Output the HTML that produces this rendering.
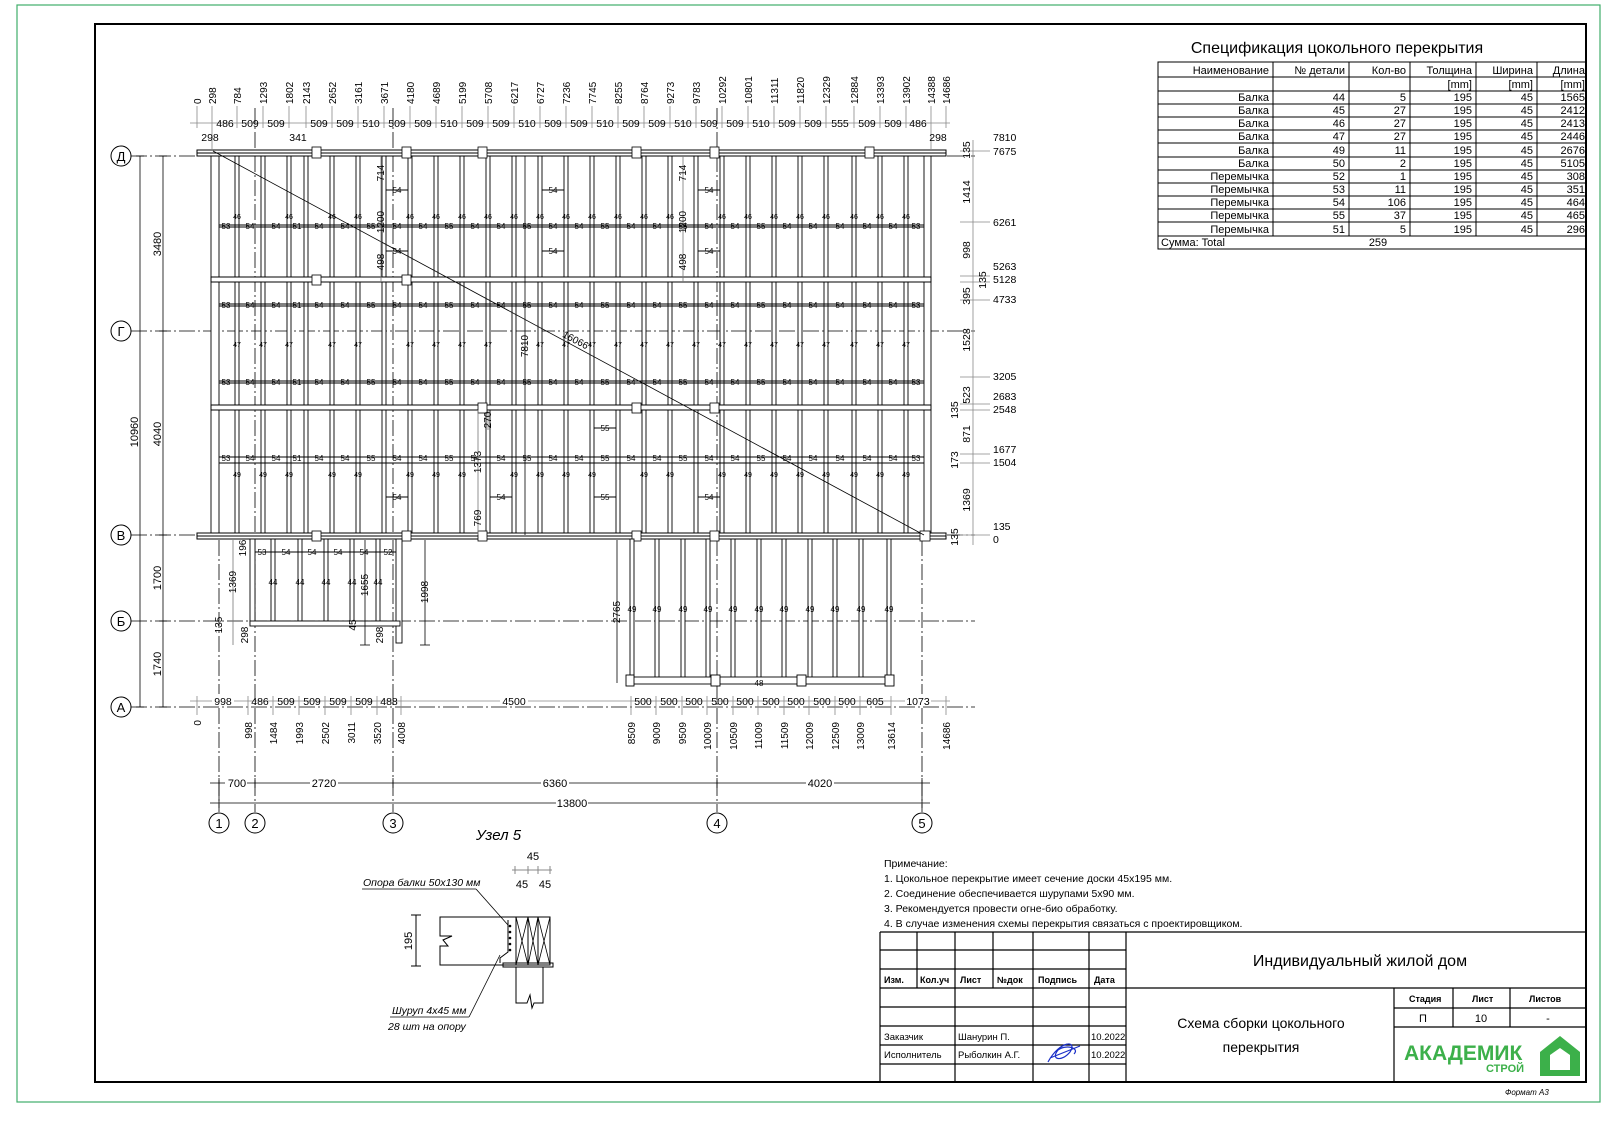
<!DOCTYPE html>
<html><head><meta charset="utf-8"><style>
html,body{margin:0;padding:0;background:#fff}
svg{display:block}
text{font-family:"Liberation Sans","DejaVu Sans",sans-serif;fill:#000}
.m{font-family:"Liberation Mono","DejaVu Sans Mono",monospace}
</style></head><body>
<svg width="1605" height="1123" viewBox="0 0 1605 1123" xmlns="http://www.w3.org/2000/svg">
<rect x="17" y="5" width="1583" height="1097" fill="none" stroke="#3fae6a" stroke-width="1.2"/>
<rect x="95" y="24" width="1491" height="1058" fill="none" stroke="#000" stroke-width="2"/>

<!-- grid lines -->
<g stroke="#000" stroke-width="0.8" stroke-dasharray="16 3 2 3" fill="none">
<line x1="131" y1="156" x2="975" y2="156"/><line x1="131" y1="331" x2="975" y2="331"/>
<line x1="131" y1="535" x2="975" y2="535"/><line x1="131" y1="621" x2="975" y2="621"/>
<line x1="131" y1="707" x2="975" y2="707"/>
<line x1="219" y1="540" x2="219" y2="812"/><line x1="255" y1="108" x2="255" y2="812"/>
<line x1="393" y1="108" x2="393" y2="812"/><line x1="717" y1="108" x2="717" y2="812"/>
<line x1="922" y1="540" x2="922" y2="812"/>
</g>
<g fill="#fff" stroke="#000" stroke-width="1">
<circle cx="121" cy="156" r="10"/><circle cx="121" cy="331" r="10"/><circle cx="121" cy="535" r="10"/><circle cx="121" cy="621" r="10"/><circle cx="121" cy="707" r="10"/>
<circle cx="219" cy="823" r="10"/><circle cx="255" cy="823" r="10"/><circle cx="393" cy="823" r="10"/><circle cx="717" cy="823" r="10"/><circle cx="922" cy="823" r="10"/>
</g>
<g font-size="13" text-anchor="middle">
<text x="121" y="161">Д</text><text x="121" y="336">Г</text><text x="121" y="540">В</text><text x="121" y="626">Б</text><text x="121" y="712">А</text>
<text x="219" y="828">1</text><text x="255" y="828">2</text><text x="393" y="828">3</text><text x="717" y="828">4</text><text x="922" y="828">5</text>
</g>

<!-- left dims -->
<g stroke="#000" stroke-width="0.8">
<line x1="140" y1="156" x2="140" y2="707"/><line x1="163" y1="156" x2="163" y2="707"/>
<line x1="136" y1="156" x2="144" y2="156"/><line x1="136" y1="707" x2="144" y2="707"/>
<line x1="159" y1="156" x2="167" y2="156"/><line x1="159" y1="331" x2="167" y2="331"/><line x1="159" y1="535" x2="167" y2="535"/><line x1="159" y1="621" x2="167" y2="621"/><line x1="159" y1="707" x2="167" y2="707"/>
</g>
<g font-size="11" text-anchor="middle">
<text transform="translate(138,432) rotate(-90)">10960</text>
<text transform="translate(161,244) rotate(-90)">3480</text>
<text transform="translate(161,434) rotate(-90)">4040</text>
<text transform="translate(161,578) rotate(-90)">1700</text>
<text transform="translate(161,664) rotate(-90)">1740</text>
</g>

<!-- joists main -->
<g fill="#fff" stroke="#000" stroke-width="0.9">
<rect x="211" y="152" width="8" height="384"/>
<rect x="235" y="156" width="4" height="378"/><rect x="261" y="156" width="4" height="378"/><rect x="287" y="156" width="4" height="378"/><rect x="304" y="156" width="4" height="378"/><rect x="330" y="156" width="4" height="378"/><rect x="356" y="156" width="4" height="378"/><rect x="382" y="156" width="4" height="378"/><rect x="408" y="156" width="4" height="378"/><rect x="434" y="156" width="4" height="378"/><rect x="460" y="156" width="4" height="378"/><rect x="486" y="156" width="4" height="378"/><rect x="512" y="156" width="4" height="378"/><rect x="538" y="156" width="4" height="378"/><rect x="564" y="156" width="4" height="378"/><rect x="590" y="156" width="4" height="378"/><rect x="616" y="156" width="4" height="378"/><rect x="642" y="156" width="4" height="378"/><rect x="668" y="156" width="4" height="378"/><rect x="694" y="156" width="4" height="378"/><rect x="720" y="156" width="4" height="378"/><rect x="746" y="156" width="4" height="378"/><rect x="772" y="156" width="4" height="378"/><rect x="798" y="156" width="4" height="378"/><rect x="824" y="156" width="4" height="378"/><rect x="852" y="156" width="4" height="378"/><rect x="878" y="156" width="4" height="378"/><rect x="904" y="156" width="4" height="378"/>
<rect x="924" y="152" width="7" height="384"/>
</g>
<!-- blocking rows -->
<g stroke="#000" stroke-width="0.9">
<line x1="219" y1="225" x2="924" y2="225"/><line x1="219" y1="227" x2="924" y2="227"/>
<line x1="219" y1="304" x2="924" y2="304"/><line x1="219" y1="306" x2="924" y2="306"/>
<line x1="219" y1="381" x2="924" y2="381"/><line x1="219" y1="383" x2="924" y2="383"/>
<line x1="219" y1="457" x2="924" y2="457"/><line x1="219" y1="463" x2="924" y2="463"/>
<line x1="386" y1="190" x2="408" y2="190"/><line x1="386" y1="251" x2="408" y2="251"/><line x1="386" y1="497" x2="408" y2="497"/>
<line x1="542" y1="190" x2="564" y2="190"/><line x1="542" y1="251" x2="564" y2="251"/>
<line x1="698" y1="190" x2="720" y2="190"/><line x1="698" y1="251" x2="720" y2="251"/><line x1="698" y1="497" x2="720" y2="497"/>
<line x1="594" y1="428" x2="616" y2="428"/><line x1="594" y1="497" x2="616" y2="497"/><line x1="490" y1="497" x2="512" y2="497"/>
</g>
<g font-size="8" text-anchor="middle">
<text x="226" y="229">53</text><text x="250" y="229">54</text><text x="276" y="229">54</text><text x="297" y="229">51</text><text x="319" y="229">54</text><text x="345" y="229">54</text><text x="371" y="229">55</text><text x="397" y="229">54</text><text x="423" y="229">54</text><text x="449" y="229">55</text><text x="475" y="229">54</text><text x="501" y="229">54</text><text x="527" y="229">55</text><text x="553" y="229">54</text><text x="579" y="229">54</text><text x="605" y="229">55</text><text x="631" y="229">54</text><text x="657" y="229">54</text><text x="683" y="229">55</text><text x="709" y="229">54</text><text x="735" y="229">54</text><text x="761" y="229">55</text><text x="787" y="229">54</text><text x="813" y="229">54</text><text x="840" y="229">54</text><text x="867" y="229">54</text><text x="893" y="229">54</text><text x="916" y="229">53</text>
<text x="226" y="308">53</text><text x="250" y="308">54</text><text x="276" y="308">54</text><text x="297" y="308">51</text><text x="319" y="308">54</text><text x="345" y="308">54</text><text x="371" y="308">55</text><text x="397" y="308">54</text><text x="423" y="308">54</text><text x="449" y="308">55</text><text x="475" y="308">54</text><text x="501" y="308">54</text><text x="527" y="308">55</text><text x="553" y="308">54</text><text x="579" y="308">54</text><text x="605" y="308">55</text><text x="631" y="308">54</text><text x="657" y="308">54</text><text x="683" y="308">55</text><text x="709" y="308">54</text><text x="735" y="308">54</text><text x="761" y="308">55</text><text x="787" y="308">54</text><text x="813" y="308">54</text><text x="840" y="308">54</text><text x="867" y="308">54</text><text x="893" y="308">54</text><text x="916" y="308">53</text>
<text x="226" y="385">53</text><text x="250" y="385">54</text><text x="276" y="385">54</text><text x="297" y="385">51</text><text x="319" y="385">54</text><text x="345" y="385">54</text><text x="371" y="385">55</text><text x="397" y="385">54</text><text x="423" y="385">54</text><text x="449" y="385">55</text><text x="475" y="385">54</text><text x="501" y="385">54</text><text x="527" y="385">55</text><text x="553" y="385">54</text><text x="579" y="385">54</text><text x="605" y="385">55</text><text x="631" y="385">54</text><text x="657" y="385">54</text><text x="683" y="385">55</text><text x="709" y="385">54</text><text x="735" y="385">54</text><text x="761" y="385">55</text><text x="787" y="385">54</text><text x="813" y="385">54</text><text x="840" y="385">54</text><text x="867" y="385">54</text><text x="893" y="385">54</text><text x="916" y="385">53</text>
<text x="226" y="461">53</text><text x="250" y="461">54</text><text x="276" y="461">54</text><text x="297" y="461">51</text><text x="319" y="461">54</text><text x="345" y="461">54</text><text x="371" y="461">55</text><text x="397" y="461">54</text><text x="423" y="461">54</text><text x="449" y="461">55</text><text x="475" y="461">54</text><text x="501" y="461">54</text><text x="527" y="461">55</text><text x="553" y="461">54</text><text x="579" y="461">54</text><text x="605" y="461">55</text><text x="631" y="461">54</text><text x="657" y="461">54</text><text x="683" y="461">55</text><text x="709" y="461">54</text><text x="735" y="461">54</text><text x="761" y="461">55</text><text x="787" y="461">54</text><text x="813" y="461">54</text><text x="840" y="461">54</text><text x="867" y="461">54</text><text x="893" y="461">54</text><text x="916" y="461">53</text>
<text x="397" y="193">54</text><text x="397" y="254">54</text><text x="397" y="500">54</text><text x="553" y="193">54</text><text x="553" y="254">54</text><text x="709" y="193">54</text><text x="709" y="254">54</text><text x="709" y="500">54</text><text x="605" y="431">55</text><text x="605" y="500">55</text><text x="501" y="500">54</text>
</g>
<g font-size="7" text-anchor="middle">
<text x="237" y="219">46</text><text x="289" y="219">46</text><text x="332" y="219">46</text><text x="358" y="219">46</text><text x="410" y="219">46</text><text x="436" y="219">46</text><text x="462" y="219">46</text><text x="488" y="219">46</text><text x="514" y="219">46</text><text x="540" y="219">46</text><text x="566" y="219">46</text><text x="592" y="219">46</text><text x="618" y="219">46</text><text x="644" y="219">46</text><text x="670" y="219">46</text><text x="722" y="219">46</text><text x="748" y="219">46</text><text x="774" y="219">46</text><text x="800" y="219">46</text><text x="826" y="219">46</text><text x="854" y="219">46</text><text x="880" y="219">46</text><text x="906" y="219">46</text>
<text x="237" y="347">47</text><text x="263" y="347">47</text><text x="289" y="347">47</text><text x="332" y="347">47</text><text x="358" y="347">47</text><text x="410" y="347">47</text><text x="436" y="347">47</text><text x="462" y="347">47</text><text x="488" y="347">47</text><text x="540" y="347">47</text><text x="566" y="347">47</text><text x="592" y="347">47</text><text x="618" y="347">47</text><text x="644" y="347">47</text><text x="670" y="347">47</text><text x="696" y="347">47</text><text x="722" y="347">47</text><text x="748" y="347">47</text><text x="774" y="347">47</text><text x="800" y="347">47</text><text x="826" y="347">47</text><text x="854" y="347">47</text><text x="880" y="347">47</text><text x="906" y="347">47</text>
<text x="237" y="477">49</text><text x="263" y="477">49</text><text x="289" y="477">49</text><text x="332" y="477">49</text><text x="358" y="477">49</text><text x="410" y="477">49</text><text x="436" y="477">49</text><text x="462" y="477">49</text><text x="514" y="477">49</text><text x="540" y="477">49</text><text x="566" y="477">49</text><text x="592" y="477">49</text><text x="644" y="477">49</text><text x="670" y="477">49</text><text x="722" y="477">49</text><text x="748" y="477">49</text><text x="774" y="477">49</text><text x="800" y="477">49</text><text x="826" y="477">49</text><text x="854" y="477">49</text><text x="880" y="477">49</text><text x="906" y="477">49</text>
</g>
<!-- beams -->
<g fill="#fff" stroke="#000" stroke-width="1">
<rect x="197" y="150" width="749" height="6"/><line x1="197" y1="153" x2="946" y2="153"/>
<rect x="211" y="277" width="720" height="5"/>
<rect x="211" y="405" width="720" height="5"/>
<rect x="197" y="533" width="749" height="6"/><line x1="197" y1="536" x2="946" y2="536"/>
</g>
<g fill="#fff" stroke="#000" stroke-width="0.8">
<rect x="312" y="147" width="9" height="11"/><rect x="402" y="147" width="9" height="11"/><rect x="478" y="147" width="9" height="11"/><rect x="632" y="147" width="9" height="11"/><rect x="710" y="147" width="9" height="11"/><rect x="865" y="147" width="9" height="11"/>
<rect x="312" y="275" width="9" height="10"/><rect x="402" y="275" width="9" height="10"/><rect x="478" y="403" width="9" height="10"/><rect x="632" y="403" width="9" height="10"/><rect x="710" y="403" width="9" height="10"/>
<rect x="312" y="531" width="9" height="10"/><rect x="402" y="531" width="9" height="10"/><rect x="478" y="531" width="9" height="10"/><rect x="632" y="531" width="9" height="10"/><rect x="710" y="531" width="9" height="10"/><rect x="920" y="531" width="10" height="10"/>
</g>
<line x1="213" y1="151" x2="924" y2="535" stroke="#000" stroke-width="0.8"/>
<text transform="translate(574,343) rotate(28)" font-size="10" text-anchor="middle">16066</text>

<!-- internal dims -->
<g stroke="#777" stroke-width="0.8">
<line x1="381" y1="156" x2="381" y2="282"/><line x1="683" y1="156" x2="683" y2="282"/>
<line x1="478" y1="410" x2="478" y2="535"/><line x1="488" y1="410" x2="488" y2="430"/>
<line x1="525" y1="156" x2="525" y2="535" stroke="#000"/>
</g>
<g font-size="10" text-anchor="middle">
<text transform="translate(384,173) rotate(-90)">714</text><text transform="translate(384,222) rotate(-90)">1200</text><text transform="translate(384,262) rotate(-90)">498</text>
<text transform="translate(686,173) rotate(-90)">714</text><text transform="translate(686,222) rotate(-90)">1200</text><text transform="translate(686,262) rotate(-90)">498</text>
<text transform="translate(528,346) rotate(-90)">7810</text>
<text transform="translate(481,462) rotate(-90)">1373</text><text transform="translate(491,420) rotate(-90)">270</text><text transform="translate(481,518) rotate(-90)">769</text>
</g>

<!-- left annex -->
<g fill="#fff" stroke="#000" stroke-width="0.9">
<rect x="250" y="539" width="5" height="86"/>
<rect x="271" y="539" width="4" height="82"/><rect x="298" y="539" width="4" height="82"/><rect x="324" y="539" width="4" height="82"/><rect x="350" y="539" width="4" height="82"/><rect x="376" y="539" width="4" height="82"/>
<rect x="396" y="539" width="6" height="104"/>
<rect x="250" y="621" width="150" height="5"/>
</g>
<line x1="255" y1="552" x2="396" y2="552" stroke="#000"/>
<g font-size="8" text-anchor="middle">
<text x="262" y="555">53</text><text x="286" y="555">54</text><text x="312" y="555">54</text><text x="338" y="555">54</text><text x="364" y="555">54</text><text x="388" y="555">52</text>
<text x="273" y="585">44</text><text x="300" y="585">44</text><text x="326" y="585">44</text><text x="352" y="585">44</text><text x="378" y="585">44</text>
</g>
<g stroke="#000" stroke-width="0.8">
<line x1="233" y1="540" x2="233" y2="645" stroke="#777"/><line x1="365" y1="540" x2="365" y2="645"/><line x1="425" y1="540" x2="425" y2="645"/>
<line x1="420" y1="645" x2="430" y2="645"/><line x1="360" y1="645" x2="370" y2="645"/>
</g>
<g font-size="10" text-anchor="middle">
<text transform="translate(246,548) rotate(-90)">196</text><text transform="translate(236,582) rotate(-90)">1369</text>
<text transform="translate(222,625) rotate(-90)">135</text><text transform="translate(248,635) rotate(-90)">298</text>
<text transform="translate(368,585) rotate(-90)">1655</text><text transform="translate(356,625) rotate(-90)">45</text>
<text transform="translate(383,635) rotate(-90)">298</text><text transform="translate(428,592) rotate(-90)">1998</text>
</g>

<!-- right annex -->
<g fill="#fff" stroke="#000" stroke-width="0.9">
<rect x="630" y="539" width="4" height="140"/><rect x="655" y="539" width="4" height="140"/><rect x="681" y="539" width="4" height="140"/><rect x="706" y="539" width="4" height="140"/><rect x="731" y="539" width="4" height="140"/><rect x="757" y="539" width="4" height="140"/><rect x="782" y="539" width="4" height="140"/><rect x="808" y="539" width="4" height="140"/><rect x="833" y="539" width="4" height="140"/><rect x="859" y="539" width="4" height="140"/><rect x="887" y="539" width="4" height="140"/>
<rect x="628" y="677" width="265" height="7"/>
<rect x="626" y="675" width="8" height="11"/><rect x="711" y="675" width="9" height="11"/><rect x="797" y="675" width="9" height="11"/><rect x="885" y="675" width="9" height="11"/>
</g>
<g font-size="8" text-anchor="middle">
<text x="632" y="612">49</text><text x="657" y="612">49</text><text x="683" y="612">49</text><text x="708" y="612">49</text><text x="733" y="612">49</text><text x="759" y="612">49</text><text x="784" y="612">49</text><text x="810" y="612">49</text><text x="835" y="612">49</text><text x="861" y="612">49</text><text x="889" y="612">49</text><text x="759" y="686">48</text>
</g>
<line x1="617" y1="540" x2="617" y2="683" stroke="#000" stroke-width="0.8"/>
<text transform="translate(620,612) rotate(-90)" font-size="10" text-anchor="middle">2765</text>

<!-- top dim chain -->
<line x1="190" y1="123" x2="950" y2="123" stroke="#888" stroke-width="0.8"/>
<g stroke="#888" stroke-width="0.8">
<line x1="197" y1="106" x2="197" y2="128"/><line x1="212" y1="106" x2="212" y2="150"/><line x1="237" y1="106" x2="237" y2="128"/><line x1="263" y1="106" x2="263" y2="128"/><line x1="289" y1="106" x2="289" y2="128"/><line x1="306" y1="106" x2="306" y2="128"/><line x1="332" y1="106" x2="332" y2="128"/><line x1="358" y1="106" x2="358" y2="128"/><line x1="384" y1="106" x2="384" y2="128"/><line x1="410" y1="106" x2="410" y2="128"/><line x1="436" y1="106" x2="436" y2="128"/><line x1="462" y1="106" x2="462" y2="128"/><line x1="488" y1="106" x2="488" y2="128"/><line x1="514" y1="106" x2="514" y2="128"/><line x1="540" y1="106" x2="540" y2="128"/><line x1="566" y1="106" x2="566" y2="128"/><line x1="592" y1="106" x2="592" y2="128"/><line x1="618" y1="106" x2="618" y2="128"/><line x1="644" y1="106" x2="644" y2="128"/><line x1="670" y1="106" x2="670" y2="128"/><line x1="696" y1="106" x2="696" y2="128"/><line x1="722" y1="106" x2="722" y2="128"/><line x1="748" y1="106" x2="748" y2="128"/><line x1="774" y1="106" x2="774" y2="128"/><line x1="800" y1="106" x2="800" y2="128"/><line x1="826" y1="106" x2="826" y2="128"/><line x1="854" y1="106" x2="854" y2="128"/><line x1="880" y1="106" x2="880" y2="128"/><line x1="906" y1="106" x2="906" y2="128"/><line x1="931" y1="106" x2="931" y2="150"/><line x1="946" y1="106" x2="946" y2="128"/>
</g>
<g font-size="10" text-anchor="start">
<text transform="translate(201,104) rotate(-90)">0</text><text transform="translate(216,104) rotate(-90)">298</text><text transform="translate(241,104) rotate(-90)">784</text><text transform="translate(267,104) rotate(-90)">1293</text><text transform="translate(293,104) rotate(-90)">1802</text><text transform="translate(310,104) rotate(-90)">2143</text><text transform="translate(336,104) rotate(-90)">2652</text><text transform="translate(362,104) rotate(-90)">3161</text><text transform="translate(388,104) rotate(-90)">3671</text><text transform="translate(414,104) rotate(-90)">4180</text><text transform="translate(440,104) rotate(-90)">4689</text><text transform="translate(466,104) rotate(-90)">5199</text><text transform="translate(492,104) rotate(-90)">5708</text><text transform="translate(518,104) rotate(-90)">6217</text><text transform="translate(544,104) rotate(-90)">6727</text><text transform="translate(570,104) rotate(-90)">7236</text><text transform="translate(596,104) rotate(-90)">7745</text><text transform="translate(622,104) rotate(-90)">8255</text><text transform="translate(648,104) rotate(-90)">8764</text><text transform="translate(674,104) rotate(-90)">9273</text><text transform="translate(700,104) rotate(-90)">9783</text><text transform="translate(726,104) rotate(-90)">10292</text><text transform="translate(752,104) rotate(-90)">10801</text><text transform="translate(778,104) rotate(-90)">11311</text><text transform="translate(804,104) rotate(-90)">11820</text><text transform="translate(830,104) rotate(-90)">12329</text><text transform="translate(858,104) rotate(-90)">12884</text><text transform="translate(884,104) rotate(-90)">13393</text><text transform="translate(910,104) rotate(-90)">13902</text><text transform="translate(935,104) rotate(-90)">14388</text><text transform="translate(950,104) rotate(-90)">14686</text>
</g>
<g font-size="10.5" text-anchor="middle">
<text x="225" y="127">486</text><text x="250" y="127">509</text><text x="276" y="127">509</text><text x="319" y="127">509</text><text x="345" y="127">509</text><text x="371" y="127">510</text><text x="397" y="127">509</text><text x="423" y="127">509</text><text x="449" y="127">510</text><text x="475" y="127">509</text><text x="501" y="127">509</text><text x="527" y="127">510</text><text x="553" y="127">509</text><text x="579" y="127">509</text><text x="605" y="127">510</text><text x="631" y="127">509</text><text x="657" y="127">509</text><text x="683" y="127">510</text><text x="709" y="127">509</text><text x="735" y="127">509</text><text x="761" y="127">510</text><text x="787" y="127">509</text><text x="813" y="127">509</text><text x="840" y="127">555</text><text x="867" y="127">509</text><text x="893" y="127">509</text><text x="918" y="127">486</text>
<text x="210" y="141">298</text><text x="298" y="141">341</text><text x="938" y="141">298</text>
</g>

<!-- right dim chain -->
<line x1="973" y1="140" x2="973" y2="545" stroke="#888" stroke-width="0.8"/>
<g stroke="#888" stroke-width="0.8">
<line x1="960" y1="151" x2="990" y2="151"/><line x1="960" y1="222" x2="990" y2="222"/><line x1="960" y1="276" x2="990" y2="276"/><line x1="960" y1="282" x2="990" y2="282"/><line x1="960" y1="300" x2="990" y2="300"/><line x1="960" y1="377" x2="990" y2="377"/><line x1="960" y1="404" x2="990" y2="404"/><line x1="960" y1="410" x2="990" y2="410"/><line x1="960" y1="454" x2="990" y2="454"/><line x1="960" y1="463" x2="990" y2="463"/><line x1="960" y1="535" x2="990" y2="535"/>
</g>
<g font-size="10.5">
<text x="993" y="141">7810</text><text x="993" y="155">7675</text><text x="993" y="226">6261</text><text x="993" y="270">5263</text><text x="993" y="283">5128</text><text x="993" y="303">4733</text><text x="993" y="380">3205</text><text x="993" y="400">2683</text><text x="993" y="413">2548</text><text x="993" y="453">1677</text><text x="993" y="466">1504</text><text x="993" y="530">135</text><text x="993" y="543">0</text>
</g>
<g font-size="10.5" text-anchor="middle">
<text transform="translate(970,150) rotate(-90)">135</text><text transform="translate(970,192) rotate(-90)">1414</text><text transform="translate(970,250) rotate(-90)">998</text><text transform="translate(986,280) rotate(-90)">135</text><text transform="translate(970,296) rotate(-90)">395</text><text transform="translate(970,340) rotate(-90)">1528</text><text transform="translate(970,395) rotate(-90)">523</text><text transform="translate(958,410) rotate(-90)">135</text><text transform="translate(970,434) rotate(-90)">871</text><text transform="translate(958,460) rotate(-90)">173</text><text transform="translate(970,500) rotate(-90)">1369</text><text transform="translate(958,537) rotate(-90)">135</text>
</g>

<!-- bottom dim chain -->
<line x1="190" y1="701" x2="950" y2="701" stroke="#888" stroke-width="0.8"/>
<g stroke="#888" stroke-width="0.8">
<line x1="197" y1="696" x2="197" y2="715"/><line x1="248" y1="696" x2="248" y2="715"/><line x1="273" y1="696" x2="273" y2="715"/><line x1="299" y1="696" x2="299" y2="715"/><line x1="325" y1="696" x2="325" y2="715"/><line x1="351" y1="696" x2="351" y2="715"/><line x1="377" y1="696" x2="377" y2="715"/><line x1="401" y1="696" x2="401" y2="715"/><line x1="631" y1="696" x2="631" y2="715"/><line x1="656" y1="696" x2="656" y2="715"/><line x1="682" y1="696" x2="682" y2="715"/><line x1="707" y1="696" x2="707" y2="715"/><line x1="733" y1="696" x2="733" y2="715"/><line x1="758" y1="696" x2="758" y2="715"/><line x1="784" y1="696" x2="784" y2="715"/><line x1="809" y1="696" x2="809" y2="715"/><line x1="835" y1="696" x2="835" y2="715"/><line x1="860" y1="696" x2="860" y2="715"/><line x1="891" y1="696" x2="891" y2="715"/><line x1="946" y1="696" x2="946" y2="715"/>
</g>
<g font-size="10.5" text-anchor="middle">
<rect x="212" y="694" width="22" height="12" fill="#fff"/><text x="223" y="705">998</text><text x="260" y="705">486</text><text x="286" y="705">509</text><text x="312" y="705">509</text><text x="338" y="705">509</text><text x="364" y="705">509</text><text x="389" y="705">488</text><rect x="500" y="694" width="28" height="12" fill="#fff"/><text x="514" y="705">4500</text>
<text x="643" y="705">500</text><text x="669" y="705">500</text><text x="694" y="705">500</text><text x="720" y="705">500</text><text x="745" y="705">500</text><text x="771" y="705">500</text><text x="796" y="705">500</text><text x="822" y="705">500</text><text x="847" y="705">500</text><text x="875" y="705">605</text><rect x="905" y="694" width="26" height="12" fill="#fff"/><text x="918" y="705">1073</text>
</g>
<g font-size="10" text-anchor="end">
<text transform="translate(201,720) rotate(-90)">0</text><text transform="translate(252,722) rotate(-90)">998</text><text transform="translate(277,722) rotate(-90)">1484</text><text transform="translate(303,722) rotate(-90)">1993</text><text transform="translate(329,722) rotate(-90)">2502</text><text transform="translate(355,722) rotate(-90)">3011</text><text transform="translate(381,722) rotate(-90)">3520</text><text transform="translate(405,722) rotate(-90)">4008</text><text transform="translate(635,722) rotate(-90)">8509</text><text transform="translate(660,722) rotate(-90)">9009</text><text transform="translate(686,722) rotate(-90)">9509</text><text transform="translate(711,722) rotate(-90)">10009</text><text transform="translate(737,722) rotate(-90)">10509</text><text transform="translate(762,722) rotate(-90)">11009</text><text transform="translate(788,722) rotate(-90)">11509</text><text transform="translate(813,722) rotate(-90)">12009</text><text transform="translate(839,722) rotate(-90)">12509</text><text transform="translate(864,722) rotate(-90)">13009</text><text transform="translate(895,722) rotate(-90)">13614</text><text transform="translate(950,722) rotate(-90)">14686</text>
</g>
<g stroke="#000" stroke-width="0.8">
<line x1="210" y1="783" x2="930" y2="783"/><line x1="210" y1="803" x2="930" y2="803"/>
<line x1="219" y1="778" x2="219" y2="808"/><line x1="255" y1="778" x2="255" y2="788"/><line x1="393" y1="778" x2="393" y2="788"/><line x1="717" y1="778" x2="717" y2="788"/><line x1="922" y1="778" x2="922" y2="808"/>
</g>
<g font-size="11" text-anchor="middle">
<rect x="225" y="777" width="22" height="12" fill="#fff"/><text x="237" y="787">700</text><rect x="310" y="777" width="28" height="12" fill="#fff"/><text x="324" y="787">2720</text><rect x="541" y="777" width="28" height="12" fill="#fff"/><text x="555" y="787">6360</text><rect x="806" y="777" width="28" height="12" fill="#fff"/><text x="820" y="787">4020</text><rect x="556" y="797" width="32" height="12" fill="#fff"/><text x="572" y="807">13800</text>
</g>

<!-- spec table -->
<text x="1337" y="53" font-size="16" text-anchor="middle">Спецификация цокольного перекрытия</text>
<g stroke="#000" stroke-width="1" fill="none">
<rect x="1158" y="62" width="428" height="187"/>
<line x1="1158" y1="77" x2="1586" y2="77"/><line x1="1158" y1="91" x2="1586" y2="91"/>
<line x1="1158" y1="104" x2="1586" y2="104"/><line x1="1158" y1="117" x2="1586" y2="117"/><line x1="1158" y1="130" x2="1586" y2="130"/><line x1="1158" y1="143" x2="1586" y2="143"/><line x1="1158" y1="157" x2="1586" y2="157"/><line x1="1158" y1="170" x2="1586" y2="170"/><line x1="1158" y1="183" x2="1586" y2="183"/><line x1="1158" y1="196" x2="1586" y2="196"/><line x1="1158" y1="209" x2="1586" y2="209"/><line x1="1158" y1="222" x2="1586" y2="222"/><line x1="1158" y1="236" x2="1586" y2="236"/>
<line x1="1273" y1="62" x2="1273" y2="236"/><line x1="1349" y1="62" x2="1349" y2="236"/><line x1="1410" y1="62" x2="1410" y2="236"/><line x1="1476" y1="62" x2="1476" y2="236"/><line x1="1537" y1="62" x2="1537" y2="236"/>
</g>
<g class="m" font-size="11" text-anchor="end">
<text x="1269" y="74">Наименование</text><text x="1345" y="74">№ детали</text><text x="1406" y="74">Кол-во</text><text x="1472" y="74">Толщина</text><text x="1533" y="74">Ширина</text><text x="1585" y="74">Длина</text>
<text x="1472" y="88">[mm]</text><text x="1533" y="88">[mm]</text><text x="1585" y="88">[mm]</text>
<text x="1269" y="101">Балка</text><text x="1345" y="101">44</text><text x="1406" y="101">5</text><text x="1472" y="101">195</text><text x="1533" y="101">45</text><text x="1585" y="101">1565</text>
<text x="1269" y="114">Балка</text><text x="1345" y="114">45</text><text x="1406" y="114">27</text><text x="1472" y="114">195</text><text x="1533" y="114">45</text><text x="1585" y="114">2412</text>
<text x="1269" y="127">Балка</text><text x="1345" y="127">46</text><text x="1406" y="127">27</text><text x="1472" y="127">195</text><text x="1533" y="127">45</text><text x="1585" y="127">2413</text>
<text x="1269" y="140">Балка</text><text x="1345" y="140">47</text><text x="1406" y="140">27</text><text x="1472" y="140">195</text><text x="1533" y="140">45</text><text x="1585" y="140">2446</text>
<text x="1269" y="154">Балка</text><text x="1345" y="154">49</text><text x="1406" y="154">11</text><text x="1472" y="154">195</text><text x="1533" y="154">45</text><text x="1585" y="154">2676</text>
<text x="1269" y="167">Балка</text><text x="1345" y="167">50</text><text x="1406" y="167">2</text><text x="1472" y="167">195</text><text x="1533" y="167">45</text><text x="1585" y="167">5105</text>
<text x="1269" y="180">Перемычка</text><text x="1345" y="180">52</text><text x="1406" y="180">1</text><text x="1472" y="180">195</text><text x="1533" y="180">45</text><text x="1585" y="180">308</text>
<text x="1269" y="193">Перемычка</text><text x="1345" y="193">53</text><text x="1406" y="193">11</text><text x="1472" y="193">195</text><text x="1533" y="193">45</text><text x="1585" y="193">351</text>
<text x="1269" y="206">Перемычка</text><text x="1345" y="206">54</text><text x="1406" y="206">106</text><text x="1472" y="206">195</text><text x="1533" y="206">45</text><text x="1585" y="206">464</text>
<text x="1269" y="219">Перемычка</text><text x="1345" y="219">55</text><text x="1406" y="219">37</text><text x="1472" y="219">195</text><text x="1533" y="219">45</text><text x="1585" y="219">465</text>
<text x="1269" y="233">Перемычка</text><text x="1345" y="233">51</text><text x="1406" y="233">5</text><text x="1472" y="233">195</text><text x="1533" y="233">45</text><text x="1585" y="233">296</text>
</g>
<g class="m" font-size="11"><text x="1161" y="246">Сумма: Total</text><text x="1378" y="246" text-anchor="middle">259</text></g>

<!-- notes -->
<g font-size="10.5">
<text x="884" y="867">Примечание:</text>
<text x="884" y="882">1. Цокольное перекрытие имеет сечение доски 45х195 мм.</text>
<text x="884" y="897">2. Соединение обеспечивается шурупами 5х90 мм.</text>
<text x="884" y="912">3. Рекомендуется провести огне-био обработку.</text>
<text x="884" y="927">4. В случае изменения схемы перекрытия связаться с проектировщиком.</text>
</g>

<!-- title block -->
<g stroke="#000" stroke-width="1.2" fill="none">
<line x1="880" y1="932" x2="1586" y2="932"/><line x1="880" y1="932" x2="880" y2="1082"/>
<line x1="1126" y1="932" x2="1126" y2="1082"/>
<line x1="880" y1="950" x2="1126" y2="950"/><line x1="880" y1="969" x2="1126" y2="969"/><line x1="880" y1="988" x2="1586" y2="988"/>
<line x1="880" y1="1007" x2="1126" y2="1007"/><line x1="880" y1="1026" x2="1126" y2="1026"/><line x1="880" y1="1045" x2="1126" y2="1045"/><line x1="880" y1="1064" x2="1126" y2="1064"/>
<line x1="917" y1="932" x2="917" y2="988"/><line x1="955" y1="932" x2="955" y2="1082"/><line x1="993" y1="932" x2="993" y2="988"/><line x1="1033" y1="932" x2="1033" y2="1082"/><line x1="1089" y1="932" x2="1089" y2="1082"/>
<line x1="1394" y1="988" x2="1394" y2="1082"/><line x1="1394" y1="1008" x2="1586" y2="1008"/><line x1="1394" y1="1027" x2="1586" y2="1027"/>
<line x1="1453" y1="988" x2="1453" y2="1027"/><line x1="1510" y1="988" x2="1510" y2="1027"/>
</g>
<g font-size="9" font-weight="bold">
<text x="884" y="983">Изм.</text><text x="920" y="983">Кол.уч</text><text x="960" y="983">Лист</text><text x="997" y="983">№док</text><text x="1038" y="983">Подпись</text><text x="1094" y="983">Дата</text>
<text x="1409" y="1002">Стадия</text><text x="1472" y="1002">Лист</text><text x="1529" y="1002">Листов</text>
</g>
<g font-size="9.5">
<text x="884" y="1040">Заказчик</text><text x="958" y="1040">Шанурин П.</text><text x="1091" y="1040">10.2022</text>
<text x="884" y="1058">Исполнитель</text><text x="958" y="1058">Рыболкин А.Г.</text><text x="1091" y="1058">10.2022</text>
</g>
<path d="M1048 1062 C1060 1040 1078 1040 1070 1052 C1062 1062 1050 1060 1058 1050 C1066 1044 1080 1048 1074 1054 M1050 1058 L1080 1046" stroke="#1a2fc8" stroke-width="1.2" fill="none"/>
<g font-size="11" text-anchor="middle"><text x="1423" y="1022">П</text><text x="1481" y="1022">10</text><text x="1548" y="1022">-</text></g>
<text x="1360" y="966" font-size="16" text-anchor="middle">Индивидуальный жилой дом</text>
<text x="1261" y="1028" font-size="14" text-anchor="middle">Схема сборки цокольного</text>
<text x="1261" y="1052" font-size="14" text-anchor="middle">перекрытия</text>
<text x="1404" y="1060" font-size="21" font-weight="bold" fill="#3cb04a" style="fill:#3cb04a">АКАДЕМИК</text>
<text x="1486" y="1072" font-size="11" font-weight="bold" style="fill:#3cb04a">СТРОЙ</text>
<path d="M1540 1052 L1560 1036 L1580 1052 L1580 1076 L1540 1076 Z" fill="#3cb04a"/>
<path d="M1550 1055 L1560 1048 L1570 1055 L1570 1070 L1550 1070 Z" fill="#fff"/>
<text x="1505" y="1095" font-size="8" font-style="italic">Формат А3</text>

<!-- detail node 5 -->
<text x="476" y="840" font-size="15" font-style="italic">Узел 5</text>
<text x="533" y="860" font-size="11" text-anchor="middle">45</text>
<line x1="512" y1="870" x2="552" y2="870" stroke="#888"/>
<g stroke="#888"><line x1="515" y1="866" x2="515" y2="874"/><line x1="528" y1="866" x2="528" y2="874"/><line x1="538" y1="866" x2="538" y2="874"/><line x1="550" y1="866" x2="550" y2="874"/></g>
<text x="522" y="888" font-size="11" text-anchor="middle">45</text><text x="545" y="888" font-size="11" text-anchor="middle">45</text>
<text x="363" y="886" font-size="10.5" font-style="italic">Опора балки 50х130 мм</text>
<line x1="362" y1="889" x2="476" y2="889" stroke="#000" stroke-width="0.8"/>
<line x1="476" y1="889" x2="508" y2="925" stroke="#000" stroke-width="0.8"/>
<g stroke="#000" stroke-width="1" fill="none">
<path d="M440 917 L550 917 L550 965 L440 965 L440 946 L448 946 L443 940 L452 936 L440 936 Z"/>
<line x1="516" y1="917" x2="516" y2="965"/><line x1="528" y1="917" x2="528" y2="965"/><line x1="538" y1="917" x2="538" y2="965"/>
<path d="M516 917 L528 965 M528 917 L516 965 M528 917 L538 965 M538 917 L528 965 M538 917 L550 965 M550 917 L538 965" stroke-width="0.8"/>
<rect x="503" y="963" width="50" height="4"/>
<path d="M516 967 L516 1003 L527 1003 L530 995 L532 1008 L534 1003 L543 1003 L543 967"/>
<path d="M508 920 L508 952 L500 958 L500 963"/>
<line x1="416" y1="915" x2="416" y2="966"/><line x1="411" y1="915" x2="421" y2="915"/><line x1="411" y1="966" x2="421" y2="966"/>
</g>
<g fill="#000"><circle cx="510" cy="926" r="1.3"/><circle cx="510" cy="932" r="1.3"/><circle cx="510" cy="938" r="1.3"/><circle cx="510" cy="944" r="1.3"/><circle cx="510" cy="950" r="1.3"/></g>
<text transform="translate(412,941) rotate(-90)" font-size="11" text-anchor="middle">195</text>
<text x="392" y="1014" font-size="10.5" font-style="italic">Шуруп 4х45 мм</text>
<line x1="390" y1="1017" x2="469" y2="1017" stroke="#000" stroke-width="0.8"/>
<line x1="469" y1="1017" x2="500" y2="955" stroke="#000" stroke-width="0.8"/>
<text x="388" y="1030" font-size="10.5" font-style="italic">28 шт на опору</text>
</svg>
</body></html>
